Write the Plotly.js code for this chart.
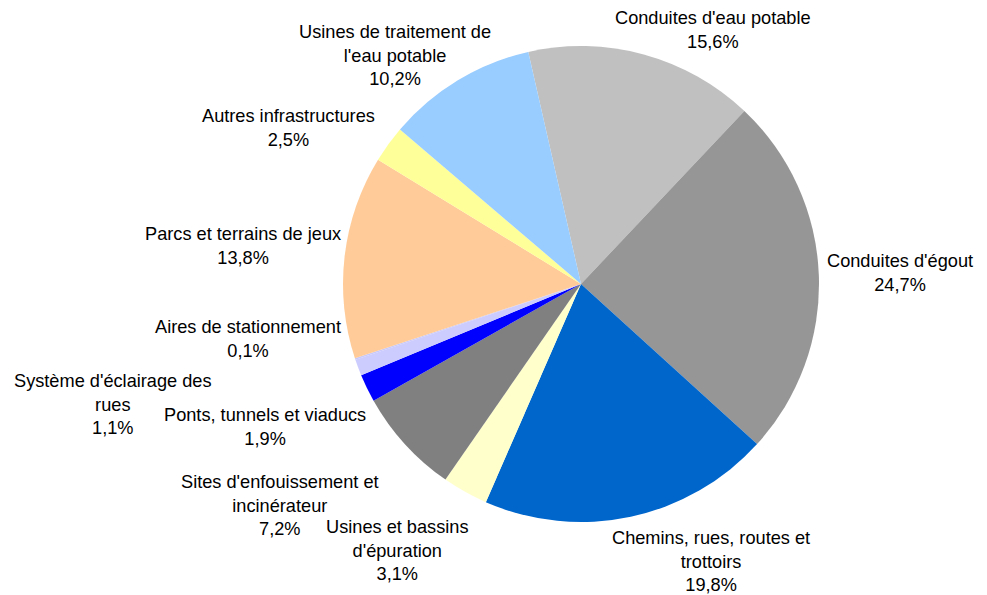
<!DOCTYPE html>
<html>
<head>
<meta charset="utf-8">
<script src="https://cdn.plot.ly/plotly-3.0.1.min.js"></script>
<style>
  html, body { margin: 0; padding: 0; background: #fff; }
  #chart { width: 987px; height: 595px; }
</style>
</head>
<body>
<div id="chart"></div>
<script>
// ── Data (clockwise from just left of 12 o'clock) ────────────────────────────

const categories = [
  "Conduites d'eau potable",
  "Conduites d'égout",
  'Chemins, rues, routes et trottoirs',
  "Usines et bassins d'épuration",
  "Sites d'enfouissement et incinérateur",
  'Ponts, tunnels et viaducs',
  "Système d'éclairage des rues",
  'Aires de stationnement',
  'Parcs et terrains de jeux',
  'Autres infrastructures',
  "Usines de traitement de l'eau potable",
];
const shares = [15.6, 24.7, 19.8, 3.1, 7.2, 1.9, 1.1, 0.1, 13.8, 2.5, 10.2];

// label text as wrapped in the picture
const labelLines = [
  ["Conduites d'eau potable"],
  ["Conduites d'égout"],
  ['Chemins, rues, routes et', 'trottoirs'],
  ['Usines et bassins', "d'épuration"],
  ["Sites d'enfouissement et", 'incinérateur'],
  ['Ponts, tunnels et viaducs'],
  ["Système d'éclairage des", 'rues'],
  ['Aires de stationnement'],
  ['Parcs et terrains de jeux'],
  ['Autres infrastructures'],
  ['Usines de traitement de', "l'eau potable"],
];

const colors = [
  '#C0C0C0', '#969696', '#0066CC', '#FFFFCC', '#808080',
  '#0000FF', '#CCCCFF', '#C8C8FA', '#FFCC99', '#FFFF99', '#99CCFF',
];

// ── Layout helpers ───────────────────────────────────────────────────────────

const W = 987, H = 595;
const CX = 581, CY = 284, R = 238;

// label block centres in pixels
const labelPos = [
  [713, 30], [900, 273], [711, 561], [397, 550], [280, 505],
  [265, 427], [113, 404], [248, 339], [243, 246], [288, 128], [395, 55],
];

const fmt = v => v.toFixed(1).replace('.', ',') + '%';

const annotations = categories.map((c, i) => ({
  text: [...labelLines[i], fmt(shares[i])].join('<br>'),
  x: labelPos[i][0] / W, y: 1 - labelPos[i][1] / H,
  xref: 'paper', yref: 'paper', xanchor: 'center', yanchor: 'middle',
  align: 'center', showarrow: false,
  font: { family: 'Liberation Sans, Arial, sans-serif', size: 18.2, color: '#000' },
}));

const trace = {
  type: 'pie',
  labels: categories,
  values: shares,
  sort: false,
  direction: 'clockwise',
  rotation: -12.8,
  marker: { colors, line: { width: 0 } },
  textinfo: 'none',
  hoverinfo: 'label+percent',
  domain: {
    x: [(CX - R) / W, (CX + R) / W],
    y: [1 - (CY + R) / H, 1 - (CY - R) / H],
  },
};

Plotly.newPlot('chart', [trace], {
  width: W, height: H,
  margin: { t: 0, b: 0, l: 0, r: 0 },
  paper_bgcolor: '#fff',
  showlegend: false,
  annotations,
}, { displayModeBar: false, staticPlot: true });
</script>
</body>
</html>
